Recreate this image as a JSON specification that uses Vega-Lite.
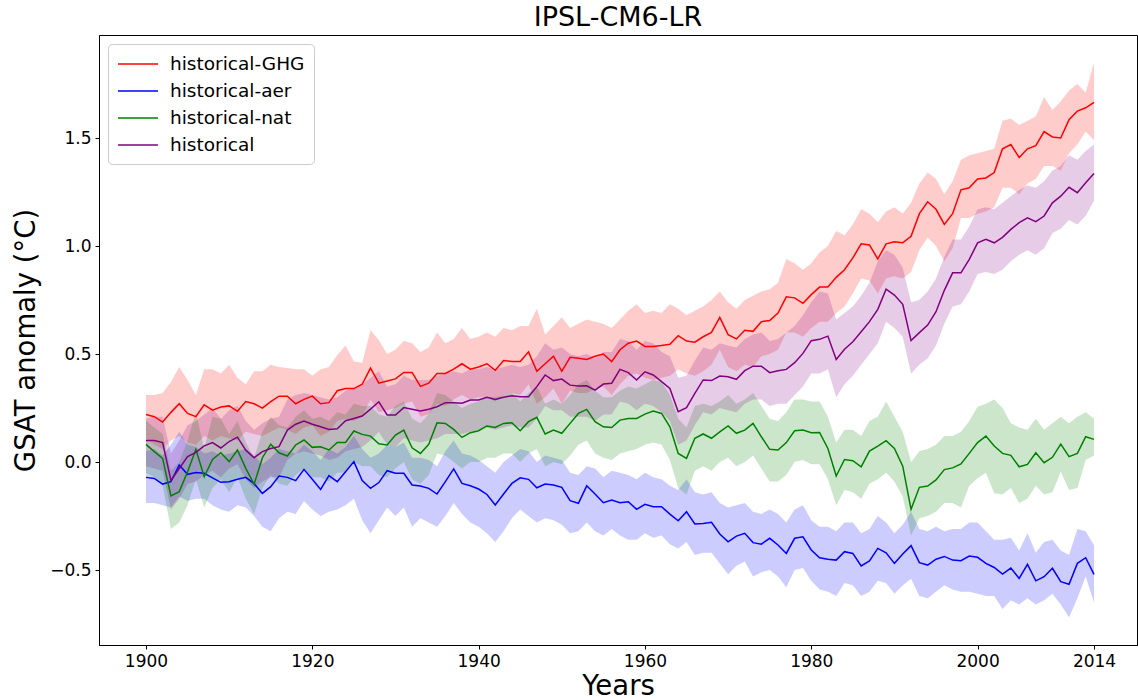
{
"$schema": "https://vega.github.io/schema/vega-lite/v6.json",
"width": 1038, "height": 610,
"autosize": "none",
"padding": {"left": 99, "top": 35, "right": 1, "bottom": 55},
"config": {"font": "DejaVu Sans", "view": {"stroke": "black", "strokeWidth": 1}},
"title": {"text": "IPSL-CM6-LR", "fontSize": 27, "fontWeight": "normal", "color": "black", "offset": 3, "anchor": "middle"},
"datasets": {"d": [
{"yr":1900,"g":0.22,"gl":0.11,"gh":0.31,"a":-0.071,"al":-0.19,"ah":0.05,"n":0.082,"nl":-0.05,"nh":0.19,"h":0.10,"hl":-0.02,"hh":0.20},
{"yr":1901,"g":0.21,"gl":0.08,"gh":0.31,"a":-0.076,"al":-0.19,"ah":0.06,"n":0.048,"nl":-0.07,"nh":0.16,"h":0.10,"hl":-0.03,"hh":0.21},
{"yr":1902,"g":0.185,"gl":0.06,"gh":0.32,"a":-0.102,"al":-0.20,"ah":0.03,"n":0.017,"nl":-0.11,"nh":0.13,"h":0.09,"hl":-0.04,"hh":0.21},
{"yr":1903,"g":0.23,"gl":0.10,"gh":0.37,"a":-0.091,"al":-0.21,"ah":0.08,"n":-0.157,"nl":-0.31,"nh":-0.04,"h":-0.085,"hl":-0.22,"hh":0.04},
{"yr":1904,"g":0.27,"gl":0.12,"gh":0.44,"a":-0.014,"al":-0.16,"ah":0.14,"n":-0.137,"nl":-0.28,"nh":0.00,"h":-0.03,"hl":-0.17,"hh":0.10},
{"yr":1905,"g":0.225,"gl":0.09,"gh":0.38,"a":-0.057,"al":-0.18,"ah":0.08,"n":-0.045,"nl":-0.20,"nh":0.10,"h":0.025,"hl":-0.10,"hh":0.17},
{"yr":1906,"g":0.21,"gl":0.08,"gh":0.31,"a":-0.049,"al":-0.17,"ah":0.07,"n":0.059,"nl":-0.08,"nh":0.23,"h":0.045,"hl":-0.09,"hh":0.19},
{"yr":1907,"g":0.265,"gl":0.12,"gh":0.43,"a":-0.052,"al":-0.17,"ah":0.04,"n":-0.068,"nl":-0.21,"nh":0.06,"h":0.075,"hl":-0.06,"hh":0.22},
{"yr":1908,"g":0.24,"gl":0.10,"gh":0.43,"a":-0.073,"al":-0.20,"ah":0.05,"n":0.012,"nl":-0.12,"nh":0.21,"h":0.09,"hl":-0.04,"hh":0.25},
{"yr":1909,"g":0.255,"gl":0.12,"gh":0.41,"a":-0.094,"al":-0.22,"ah":0.03,"n":0.043,"nl":-0.08,"nh":0.20,"h":0.065,"hl":-0.07,"hh":0.20},
{"yr":1910,"g":0.26,"gl":0.11,"gh":0.45,"a":-0.091,"al":-0.23,"ah":0.04,"n":0.002,"nl":-0.14,"nh":0.13,"h":0.095,"hl":-0.03,"hh":0.24},
{"yr":1911,"g":0.235,"gl":0.10,"gh":0.39,"a":-0.08,"al":-0.20,"ah":0.05,"n":0.056,"nl":-0.07,"nh":0.19,"h":0.115,"hl":-0.01,"hh":0.26},
{"yr":1912,"g":0.28,"gl":0.14,"gh":0.36,"a":-0.071,"al":-0.21,"ah":0.06,"n":-0.029,"nl":-0.17,"nh":0.09,"h":0.055,"hl":-0.08,"hh":0.19},
{"yr":1913,"g":0.27,"gl":0.13,"gh":0.42,"a":-0.10,"al":-0.25,"ah":0.03,"n":-0.102,"nl":-0.24,"nh":0.02,"h":0.02,"hl":-0.12,"hh":0.15},
{"yr":1914,"g":0.25,"gl":0.12,"gh":0.42,"a":-0.145,"al":-0.30,"ah":-0.01,"n":0.02,"nl":-0.12,"nh":0.14,"h":0.048,"hl":-0.09,"hh":0.18},
{"yr":1915,"g":0.28,"gl":0.14,"gh":0.45,"a":-0.114,"al":-0.32,"ah":0.02,"n":0.083,"nl":-0.06,"nh":0.21,"h":0.063,"hl":-0.07,"hh":0.20},
{"yr":1916,"g":0.305,"gl":0.16,"gh":0.44,"a":-0.065,"al":-0.26,"ah":0.06,"n":0.043,"nl":-0.10,"nh":0.17,"h":0.071,"hl":-0.07,"hh":0.21},
{"yr":1917,"g":0.305,"gl":0.15,"gh":0.435,"a":-0.071,"al":-0.23,"ah":0.05,"n":0.028,"nl":-0.11,"nh":0.16,"h":0.148,"hl":0.01,"hh":0.29},
{"yr":1918,"g":0.27,"gl":0.13,"gh":0.43,"a":-0.086,"al":-0.24,"ah":0.04,"n":0.079,"nl":-0.06,"nh":0.21,"h":0.175,"hl":0.04,"hh":0.31},
{"yr":1919,"g":0.29,"gl":0.16,"gh":0.43,"a":-0.034,"al":-0.18,"ah":0.08,"n":0.102,"nl":-0.03,"nh":0.24,"h":0.19,"hl":0.05,"hh":0.32},
{"yr":1920,"g":0.305,"gl":0.17,"gh":0.40,"a":-0.08,"al":-0.22,"ah":0.05,"n":0.068,"nl":-0.07,"nh":0.20,"h":0.175,"hl":0.04,"hh":0.31},
{"yr":1921,"g":0.27,"gl":0.12,"gh":0.43,"a":-0.127,"al":-0.25,"ah":0.01,"n":0.071,"nl":-0.07,"nh":0.21,"h":0.163,"hl":0.03,"hh":0.30},
{"yr":1922,"g":0.275,"gl":0.14,"gh":0.44,"a":-0.063,"al":-0.23,"ah":0.06,"n":0.056,"nl":-0.09,"nh":0.19,"h":0.151,"hl":0.01,"hh":0.29},
{"yr":1923,"g":0.33,"gl":0.19,"gh":0.495,"a":-0.091,"al":-0.22,"ah":0.04,"n":0.091,"nl":-0.05,"nh":0.23,"h":0.154,"hl":0.02,"hh":0.30},
{"yr":1924,"g":0.34,"gl":0.20,"gh":0.54,"a":-0.045,"al":-0.20,"ah":0.07,"n":0.091,"nl":-0.05,"nh":0.22,"h":0.191,"hl":0.05,"hh":0.33},
{"yr":1925,"g":0.34,"gl":0.19,"gh":0.465,"a":0.002,"al":-0.17,"ah":0.12,"n":0.144,"nl":0.00,"nh":0.27,"h":0.202,"hl":0.06,"hh":0.34},
{"yr":1926,"g":0.36,"gl":0.21,"gh":0.46,"a":-0.086,"al":-0.27,"ah":0.06,"n":0.128,"nl":-0.02,"nh":0.26,"h":0.213,"hl":0.07,"hh":0.36},
{"yr":1927,"g":0.435,"gl":0.29,"gh":0.61,"a":-0.122,"al":-0.33,"ah":0.02,"n":0.12,"nl":-0.02,"nh":0.26,"h":0.245,"hl":0.10,"hh":0.39},
{"yr":1928,"g":0.365,"gl":0.23,"gh":0.565,"a":-0.095,"al":-0.27,"ah":0.04,"n":0.085,"nl":-0.06,"nh":0.22,"h":0.279,"hl":0.14,"hh":0.42},
{"yr":1929,"g":0.375,"gl":0.24,"gh":0.50,"a":-0.04,"al":-0.21,"ah":0.08,"n":0.079,"nl":-0.07,"nh":0.21,"h":0.218,"hl":0.08,"hh":0.35},
{"yr":1930,"g":0.385,"gl":0.25,"gh":0.52,"a":-0.052,"al":-0.25,"ah":0.07,"n":0.125,"nl":-0.03,"nh":0.26,"h":0.218,"hl":0.07,"hh":0.36},
{"yr":1931,"g":0.415,"gl":0.27,"gh":0.56,"a":-0.052,"al":-0.21,"ah":0.09,"n":0.148,"nl":0.00,"nh":0.28,"h":0.252,"hl":0.11,"hh":0.40},
{"yr":1932,"g":0.415,"gl":0.28,"gh":0.55,"a":-0.106,"al":-0.30,"ah":0.02,"n":0.066,"nl":-0.08,"nh":0.20,"h":0.244,"hl":0.10,"hh":0.38},
{"yr":1933,"g":0.35,"gl":0.21,"gh":0.51,"a":-0.111,"al":-0.26,"ah":0.02,"n":0.04,"nl":-0.10,"nh":0.18,"h":0.236,"hl":0.09,"hh":0.38},
{"yr":1934,"g":0.365,"gl":0.22,"gh":0.53,"a":-0.122,"al":-0.28,"ah":0.01,"n":0.082,"nl":-0.06,"nh":0.22,"h":0.244,"hl":0.10,"hh":0.38},
{"yr":1935,"g":0.41,"gl":0.27,"gh":0.60,"a":-0.148,"al":-0.30,"ah":-0.02,"n":0.182,"nl":0.04,"nh":0.32,"h":0.256,"hl":0.11,"hh":0.40},
{"yr":1936,"g":0.41,"gl":0.26,"gh":0.55,"a":-0.091,"al":-0.25,"ah":0.05,"n":0.179,"nl":0.03,"nh":0.31,"h":0.275,"hl":0.13,"hh":0.41},
{"yr":1937,"g":0.43,"gl":0.29,"gh":0.57,"a":-0.032,"al":-0.19,"ah":0.10,"n":0.151,"nl":0.00,"nh":0.28,"h":0.275,"hl":0.13,"hh":0.42},
{"yr":1938,"g":0.455,"gl":0.31,"gh":0.62,"a":-0.099,"al":-0.24,"ah":0.04,"n":0.114,"nl":-0.03,"nh":0.25,"h":0.272,"hl":0.13,"hh":0.41},
{"yr":1939,"g":0.43,"gl":0.29,"gh":0.57,"a":-0.11,"al":-0.28,"ah":0.03,"n":0.136,"nl":0.00,"nh":0.27,"h":0.287,"hl":0.14,"hh":0.43},
{"yr":1940,"g":0.44,"gl":0.30,"gh":0.58,"a":-0.125,"al":-0.30,"ah":0.01,"n":0.145,"nl":0.00,"nh":0.28,"h":0.287,"hl":0.15,"hh":0.43},
{"yr":1941,"g":0.455,"gl":0.30,"gh":0.60,"a":-0.15,"al":-0.33,"ah":-0.02,"n":0.167,"nl":0.02,"nh":0.30,"h":0.30,"hl":0.16,"hh":0.44},
{"yr":1942,"g":0.425,"gl":0.28,"gh":0.58,"a":-0.199,"al":-0.37,"ah":-0.05,"n":0.16,"nl":0.02,"nh":0.30,"h":0.29,"hl":0.15,"hh":0.43},
{"yr":1943,"g":0.47,"gl":0.31,"gh":0.62,"a":-0.148,"al":-0.32,"ah":0.00,"n":0.179,"nl":0.04,"nh":0.31,"h":0.30,"hl":0.16,"hh":0.44},
{"yr":1944,"g":0.465,"gl":0.32,"gh":0.61,"a":-0.099,"al":-0.26,"ah":0.03,"n":0.182,"nl":0.04,"nh":0.32,"h":0.307,"hl":0.17,"hh":0.45},
{"yr":1945,"g":0.465,"gl":0.31,"gh":0.63,"a":-0.073,"al":-0.22,"ah":0.06,"n":0.145,"nl":0.00,"nh":0.28,"h":0.302,"hl":0.16,"hh":0.44},
{"yr":1946,"g":0.51,"gl":0.36,"gh":0.63,"a":-0.08,"al":-0.25,"ah":0.05,"n":0.187,"nl":0.04,"nh":0.32,"h":0.302,"hl":0.16,"hh":0.45},
{"yr":1947,"g":0.42,"gl":0.27,"gh":0.71,"a":-0.119,"al":-0.28,"ah":0.00,"n":0.207,"nl":0.06,"nh":0.35,"h":0.349,"hl":0.20,"hh":0.49},
{"yr":1948,"g":0.455,"gl":0.30,"gh":0.59,"a":-0.102,"al":-0.26,"ah":0.03,"n":0.13,"nl":-0.02,"nh":0.27,"h":0.403,"hl":0.26,"hh":0.55},
{"yr":1949,"g":0.49,"gl":0.34,"gh":0.63,"a":-0.106,"al":-0.27,"ah":0.02,"n":0.148,"nl":0.00,"nh":0.29,"h":0.377,"hl":0.24,"hh":0.52},
{"yr":1950,"g":0.42,"gl":0.27,"gh":0.67,"a":-0.117,"al":-0.29,"ah":0.01,"n":0.133,"nl":-0.01,"nh":0.27,"h":0.384,"hl":0.24,"hh":0.53},
{"yr":1951,"g":0.485,"gl":0.33,"gh":0.62,"a":-0.179,"al":-0.33,"ah":-0.05,"n":0.179,"nl":0.03,"nh":0.31,"h":0.356,"hl":0.21,"hh":0.50},
{"yr":1952,"g":0.48,"gl":0.32,"gh":0.64,"a":-0.191,"al":-0.32,"ah":-0.06,"n":0.225,"nl":0.08,"nh":0.36,"h":0.352,"hl":0.21,"hh":0.49},
{"yr":1953,"g":0.475,"gl":0.32,"gh":0.66,"a":-0.11,"al":-0.28,"ah":-0.02,"n":0.244,"nl":0.10,"nh":0.38,"h":0.353,"hl":0.21,"hh":0.50},
{"yr":1954,"g":0.49,"gl":0.34,"gh":0.65,"a":-0.148,"al":-0.32,"ah":-0.03,"n":0.187,"nl":0.04,"nh":0.33,"h":0.333,"hl":0.19,"hh":0.48},
{"yr":1955,"g":0.50,"gl":0.35,"gh":0.64,"a":-0.188,"al":-0.34,"ah":-0.07,"n":0.163,"nl":0.02,"nh":0.30,"h":0.361,"hl":0.22,"hh":0.51},
{"yr":1956,"g":0.465,"gl":0.31,"gh":0.62,"a":-0.176,"al":-0.31,"ah":-0.04,"n":0.16,"nl":0.01,"nh":0.30,"h":0.365,"hl":0.22,"hh":0.51},
{"yr":1957,"g":0.52,"gl":0.36,"gh":0.66,"a":-0.188,"al":-0.34,"ah":-0.05,"n":0.194,"nl":0.04,"nh":0.33,"h":0.429,"hl":0.28,"hh":0.57},
{"yr":1958,"g":0.55,"gl":0.40,"gh":0.70,"a":-0.184,"al":-0.36,"ah":-0.06,"n":0.202,"nl":0.05,"nh":0.35,"h":0.414,"hl":0.27,"hh":0.56},
{"yr":1959,"g":0.56,"gl":0.41,"gh":0.73,"a":-0.219,"al":-0.36,"ah":-0.08,"n":0.202,"nl":0.06,"nh":0.34,"h":0.38,"hl":0.24,"hh":0.52},
{"yr":1960,"g":0.535,"gl":0.39,"gh":0.69,"a":-0.196,"al":-0.33,"ah":-0.05,"n":0.222,"nl":0.08,"nh":0.36,"h":0.418,"hl":0.27,"hh":0.56},
{"yr":1961,"g":0.535,"gl":0.38,"gh":0.70,"a":-0.207,"al":-0.35,"ah":-0.07,"n":0.236,"nl":0.09,"nh":0.38,"h":0.403,"hl":0.26,"hh":0.55},
{"yr":1962,"g":0.54,"gl":0.39,"gh":0.69,"a":-0.207,"al":-0.34,"ah":-0.08,"n":0.225,"nl":0.08,"nh":0.37,"h":0.372,"hl":0.23,"hh":0.51},
{"yr":1963,"g":0.545,"gl":0.40,"gh":0.73,"a":-0.241,"al":-0.38,"ah":-0.11,"n":0.163,"nl":0.01,"nh":0.31,"h":0.341,"hl":0.19,"hh":0.49},
{"yr":1964,"g":0.585,"gl":0.43,"gh":0.71,"a":-0.272,"al":-0.40,"ah":-0.13,"n":0.04,"nl":-0.12,"nh":0.20,"h":0.233,"hl":0.08,"hh":0.39},
{"yr":1965,"g":0.56,"gl":0.41,"gh":0.68,"a":-0.23,"al":-0.37,"ah":-0.08,"n":0.017,"nl":-0.15,"nh":0.16,"h":0.252,"hl":0.10,"hh":0.40},
{"yr":1966,"g":0.555,"gl":0.40,"gh":0.70,"a":-0.287,"al":-0.43,"ah":-0.14,"n":0.11,"nl":-0.04,"nh":0.26,"h":0.318,"hl":0.17,"hh":0.47},
{"yr":1967,"g":0.58,"gl":0.42,"gh":0.72,"a":-0.284,"al":-0.42,"ah":-0.15,"n":0.13,"nl":-0.02,"nh":0.27,"h":0.38,"hl":0.23,"hh":0.53},
{"yr":1968,"g":0.60,"gl":0.45,"gh":0.75,"a":-0.279,"al":-0.42,"ah":-0.14,"n":0.11,"nl":-0.04,"nh":0.26,"h":0.377,"hl":0.22,"hh":0.52},
{"yr":1969,"g":0.67,"gl":0.52,"gh":0.79,"a":-0.333,"al":-0.47,"ah":-0.19,"n":0.14,"nl":0.00,"nh":0.28,"h":0.398,"hl":0.25,"hh":0.55},
{"yr":1970,"g":0.59,"gl":0.44,"gh":0.74,"a":-0.369,"al":-0.52,"ah":-0.21,"n":0.167,"nl":0.02,"nh":0.31,"h":0.395,"hl":0.24,"hh":0.54},
{"yr":1971,"g":0.57,"gl":0.42,"gh":0.71,"a":-0.343,"al":-0.48,"ah":-0.20,"n":0.133,"nl":-0.02,"nh":0.27,"h":0.383,"hl":0.23,"hh":0.53},
{"yr":1972,"g":0.61,"gl":0.45,"gh":0.75,"a":-0.33,"al":-0.46,"ah":-0.19,"n":0.148,"nl":0.00,"nh":0.29,"h":0.423,"hl":0.27,"hh":0.57},
{"yr":1973,"g":0.605,"gl":0.44,"gh":0.77,"a":-0.373,"al":-0.53,"ah":-0.23,"n":0.179,"nl":0.03,"nh":0.32,"h":0.444,"hl":0.29,"hh":0.59},
{"yr":1974,"g":0.65,"gl":0.49,"gh":0.79,"a":-0.38,"al":-0.51,"ah":-0.24,"n":0.117,"nl":-0.03,"nh":0.26,"h":0.444,"hl":0.29,"hh":0.60},
{"yr":1975,"g":0.655,"gl":0.50,"gh":0.80,"a":-0.353,"al":-0.50,"ah":-0.22,"n":0.059,"nl":-0.09,"nh":0.20,"h":0.414,"hl":0.26,"hh":0.56},
{"yr":1976,"g":0.69,"gl":0.52,"gh":0.83,"a":-0.384,"al":-0.53,"ah":-0.24,"n":0.056,"nl":-0.09,"nh":0.19,"h":0.423,"hl":0.27,"hh":0.57},
{"yr":1977,"g":0.765,"gl":0.60,"gh":0.94,"a":-0.423,"al":-0.58,"ah":-0.28,"n":0.09,"nl":-0.06,"nh":0.23,"h":0.429,"hl":0.27,"hh":0.60},
{"yr":1978,"g":0.76,"gl":0.60,"gh":0.92,"a":-0.353,"al":-0.50,"ah":-0.22,"n":0.145,"nl":0.00,"nh":0.29,"h":0.46,"hl":0.31,"hh":0.63},
{"yr":1979,"g":0.735,"gl":0.58,"gh":0.89,"a":-0.346,"al":-0.49,"ah":-0.20,"n":0.148,"nl":0.01,"nh":0.29,"h":0.503,"hl":0.35,"hh":0.68},
{"yr":1980,"g":0.775,"gl":0.62,"gh":0.92,"a":-0.407,"al":-0.55,"ah":-0.27,"n":0.136,"nl":-0.01,"nh":0.28,"h":0.562,"hl":0.41,"hh":0.74},
{"yr":1981,"g":0.81,"gl":0.65,"gh":0.97,"a":-0.443,"al":-0.59,"ah":-0.30,"n":0.137,"nl":-0.01,"nh":0.28,"h":0.568,"hl":0.41,"hh":0.79},
{"yr":1982,"g":0.81,"gl":0.65,"gh":1.00,"a":-0.45,"al":-0.60,"ah":-0.30,"n":0.063,"nl":-0.08,"nh":0.21,"h":0.583,"hl":0.43,"hh":0.78},
{"yr":1983,"g":0.855,"gl":0.69,"gh":1.07,"a":-0.454,"al":-0.62,"ah":-0.32,"n":-0.065,"nl":-0.20,"nh":0.09,"h":0.475,"hl":0.30,"hh":0.66},
{"yr":1984,"g":0.89,"gl":0.72,"gh":1.05,"a":-0.415,"al":-0.56,"ah":-0.28,"n":0.012,"nl":-0.13,"nh":0.15,"h":0.522,"hl":0.36,"hh":0.69},
{"yr":1985,"g":0.945,"gl":0.78,"gh":1.10,"a":-0.423,"al":-0.57,"ah":-0.28,"n":0.006,"nl":-0.14,"nh":0.15,"h":0.557,"hl":0.40,"hh":0.72},
{"yr":1986,"g":1.01,"gl":0.85,"gh":1.17,"a":-0.481,"al":-0.62,"ah":-0.33,"n":-0.022,"nl":-0.17,"nh":0.12,"h":0.603,"hl":0.45,"hh":0.77},
{"yr":1987,"g":1.005,"gl":0.84,"gh":1.15,"a":-0.458,"al":-0.60,"ah":-0.31,"n":0.051,"nl":-0.10,"nh":0.19,"h":0.65,"hl":0.50,"hh":0.83},
{"yr":1988,"g":0.94,"gl":0.78,"gh":1.11,"a":-0.40,"al":-0.55,"ah":-0.25,"n":0.074,"nl":-0.08,"nh":0.21,"h":0.707,"hl":0.55,"hh":0.93},
{"yr":1989,"g":1.01,"gl":0.85,"gh":1.16,"a":-0.42,"al":-0.56,"ah":-0.28,"n":0.099,"nl":-0.05,"nh":0.28,"h":0.80,"hl":0.65,"hh":0.98},
{"yr":1990,"g":1.02,"gl":0.86,"gh":1.18,"a":-0.469,"al":-0.61,"ah":-0.33,"n":0.063,"nl":-0.09,"nh":0.21,"h":0.773,"hl":0.62,"hh":0.96},
{"yr":1991,"g":1.015,"gl":0.85,"gh":1.15,"a":-0.426,"al":-0.57,"ah":-0.29,"n":-0.019,"nl":-0.16,"nh":0.14,"h":0.73,"hl":0.58,"hh":0.90},
{"yr":1992,"g":1.045,"gl":0.88,"gh":1.20,"a":-0.387,"al":-0.54,"ah":-0.23,"n":-0.219,"nl":-0.34,"nh":0.00,"h":0.562,"hl":0.41,"hh":0.74},
{"yr":1993,"g":1.15,"gl":0.98,"gh":1.29,"a":-0.466,"al":-0.62,"ah":-0.31,"n":-0.117,"nl":-0.26,"nh":0.05,"h":0.599,"hl":0.45,"hh":0.75},
{"yr":1994,"g":1.205,"gl":1.04,"gh":1.34,"a":-0.477,"al":-0.63,"ah":-0.32,"n":-0.111,"nl":-0.25,"nh":0.06,"h":0.634,"hl":0.48,"hh":0.79},
{"yr":1995,"g":1.17,"gl":1.00,"gh":1.31,"a":-0.45,"al":-0.60,"ah":-0.30,"n":-0.083,"nl":-0.23,"nh":0.08,"h":0.696,"hl":0.54,"hh":0.85},
{"yr":1996,"g":1.10,"gl":0.93,"gh":1.24,"a":-0.437,"al":-0.57,"ah":-0.32,"n":-0.035,"nl":-0.19,"nh":0.12,"h":0.795,"hl":0.64,"hh":0.95},
{"yr":1997,"g":1.15,"gl":0.99,"gh":1.30,"a":-0.454,"al":-0.59,"ah":-0.31,"n":-0.027,"nl":-0.19,"nh":0.12,"h":0.876,"hl":0.72,"hh":1.03},
{"yr":1998,"g":1.26,"gl":1.13,"gh":1.40,"a":-0.457,"al":-0.60,"ah":-0.31,"n":-0.009,"nl":-0.21,"nh":0.14,"h":0.876,"hl":0.73,"hh":1.03},
{"yr":1999,"g":1.27,"gl":1.13,"gh":1.42,"a":-0.435,"al":-0.60,"ah":-0.28,"n":0.04,"nl":-0.11,"nh":0.19,"h":0.938,"hl":0.79,"hh":1.09},
{"yr":2000,"g":1.31,"gl":1.15,"gh":1.43,"a":-0.441,"al":-0.61,"ah":-0.28,"n":0.09,"nl":-0.075,"nh":0.256,"h":1.015,"hl":0.87,"hh":1.17},
{"yr":2001,"g":1.315,"gl":1.16,"gh":1.44,"a":-0.469,"al":-0.62,"ah":-0.32,"n":0.12,"nl":-0.05,"nh":0.27,"h":1.031,"hl":0.88,"hh":1.18},
{"yr":2002,"g":1.34,"gl":1.18,"gh":1.45,"a":-0.488,"al":-0.62,"ah":-0.36,"n":0.074,"nl":-0.145,"nh":0.29,"h":1.015,"hl":0.87,"hh":1.17},
{"yr":2003,"g":1.45,"gl":1.27,"gh":1.58,"a":-0.519,"al":-0.68,"ah":-0.36,"n":0.04,"nl":-0.15,"nh":0.25,"h":1.04,"hl":0.89,"hh":1.20},
{"yr":2004,"g":1.47,"gl":1.27,"gh":1.59,"a":-0.491,"al":-0.64,"ah":-0.35,"n":0.031,"nl":-0.12,"nh":0.18,"h":1.077,"hl":0.93,"hh":1.23},
{"yr":2005,"g":1.41,"gl":1.24,"gh":1.56,"a":-0.539,"al":-0.66,"ah":-0.41,"n":-0.022,"nl":-0.19,"nh":0.16,"h":1.108,"hl":0.96,"hh":1.26},
{"yr":2006,"g":1.45,"gl":1.29,"gh":1.58,"a":-0.474,"al":-0.63,"ah":-0.33,"n":-0.011,"nl":-0.17,"nh":0.15,"h":1.131,"hl":0.98,"hh":1.28},
{"yr":2007,"g":1.465,"gl":1.31,"gh":1.60,"a":-0.55,"al":-0.66,"ah":-0.42,"n":0.043,"nl":-0.11,"nh":0.20,"h":1.113,"hl":0.96,"hh":1.27},
{"yr":2008,"g":1.53,"gl":1.37,"gh":1.69,"a":-0.531,"al":-0.64,"ah":-0.37,"n":-0.003,"nl":-0.15,"nh":0.15,"h":1.139,"hl":0.99,"hh":1.30},
{"yr":2009,"g":1.505,"gl":1.37,"gh":1.63,"a":-0.492,"al":-0.61,"ah":-0.36,"n":0.022,"nl":-0.14,"nh":0.18,"h":1.20,"hl":1.06,"hh":1.35},
{"yr":2010,"g":1.50,"gl":1.35,"gh":1.67,"a":-0.554,"al":-0.66,"ah":-0.41,"n":0.083,"nl":-0.045,"nh":0.21,"h":1.231,"hl":1.08,"hh":1.37},
{"yr":2011,"g":1.585,"gl":1.43,"gh":1.72,"a":-0.566,"al":-0.72,"ah":-0.43,"n":0.025,"nl":-0.13,"nh":0.18,"h":1.272,"hl":1.12,"hh":1.42},
{"yr":2012,"g":1.625,"gl":1.47,"gh":1.75,"a":-0.469,"al":-0.63,"ah":-0.31,"n":0.04,"nl":-0.12,"nh":0.21,"h":1.247,"hl":1.10,"hh":1.40},
{"yr":2013,"g":1.64,"gl":1.53,"gh":1.71,"a":-0.443,"al":-0.53,"ah":-0.32,"n":0.117,"nl":0.01,"nh":0.23,"h":1.293,"hl":1.14,"hh":1.44},
{"yr":2014,"g":1.665,"gl":1.49,"gh":1.85,"a":-0.52,"al":-0.65,"ah":-0.385,"n":0.105,"nl":0.03,"nh":0.20,"h":1.336,"hl":1.21,"hh":1.47}
]},
"data": {"name": "d"},
"encoding": {
  "x": {"field": "yr", "type": "quantitative",
        "scale": {"domain": [1894.35, 2019.17], "nice": false, "zero": false},
        "axis": {"values": [1900, 1920, 1940, 1960, 1980, 2000, 2014], "format": "d", "grid": false,
                 "title": "Years", "titleFontSize": 27.5, "titleFontWeight": "normal", "titleColor": "black", "titlePadding": 3,
                 "labelFontSize": 17, "labelColor": "black", "tickColor": "black", "tickSize": 4, "labelPadding": 4,
                 "domainColor": "black"}}
},
"layer": [
  {"mark": {"type": "area", "color": "red", "opacity": 0.2}, "encoding": {"y": {"field": "gl", "type": "quantitative",
     "scale": {"domain": [-0.847, 1.977], "nice": false, "zero": false},
     "axis": {"values": [-0.5, 0, 0.5, 1.0, 1.5], "format": ".1f", "grid": false, "title": "GSAT anomaly (°C)", "titleFontSize": 27.5, "titleFontWeight": "normal", "titleColor": "black", "titlePadding": 9,
              "labelFontSize": 17, "labelColor": "black", "tickColor": "black", "tickSize": 4, "labelPadding": 4, "domainColor": "black"}},
     "y2": {"field": "gh"}}},
  {"mark": {"type": "area", "color": "blue", "opacity": 0.2}, "encoding": {"y": {"field": "al", "type": "quantitative"}, "y2": {"field": "ah"}}},
  {"mark": {"type": "area", "color": "green", "opacity": 0.2}, "encoding": {"y": {"field": "nl", "type": "quantitative"}, "y2": {"field": "nh"}}},
  {"mark": {"type": "area", "color": "purple", "opacity": 0.2}, "encoding": {"y": {"field": "hl", "type": "quantitative"}, "y2": {"field": "hh"}}},
  {"mark": {"type": "line", "strokeWidth": 1.5}, "encoding": {"y": {"field": "g", "type": "quantitative"}, "color": {"datum": "historical-GHG", "type": "nominal"}}},
  {"mark": {"type": "line", "strokeWidth": 1.5}, "encoding": {"y": {"field": "a", "type": "quantitative"}, "color": {"datum": "historical-aer", "type": "nominal"}}},
  {"mark": {"type": "line", "strokeWidth": 1.5}, "encoding": {"y": {"field": "n", "type": "quantitative"}, "color": {"datum": "historical-nat", "type": "nominal"}}},
  {"mark": {"type": "line", "strokeWidth": 1.5}, "encoding": {"y": {"field": "h", "type": "quantitative"}, "color": {"datum": "historical", "type": "nominal",
     "scale": {"domain": ["historical-GHG", "historical-aer", "historical-nat", "historical"], "range": ["red", "blue", "green", "purple"]},
     "legend": {"title": null, "orient": "top-left", "offset": 9, "padding": 9, "strokeColor": "#cccccc", "fillColor": "white", "cornerRadius": 4,
                "labelFontSize": 18.5, "labelColor": "black", "symbolType": "M-1,0H3", "symbolSize": 400, "symbolStrokeWidth": 1.5, "labelOffset": 31, "rowPadding": 6}}}}
]
}
